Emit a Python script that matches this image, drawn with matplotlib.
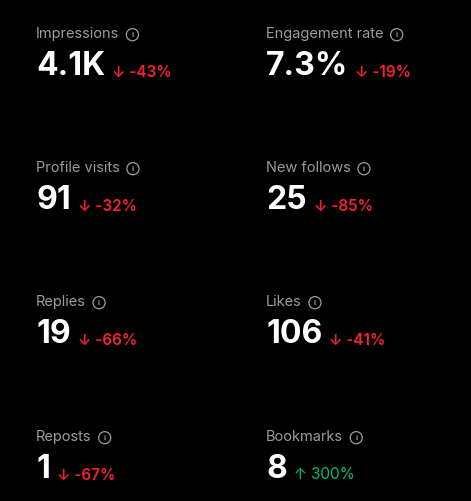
import matplotlib.pyplot as plt

# Metric cards (2 columns x 4 rows)
labels = ['Impressions', 'Engagement rate', 'Profile visits', 'New follows',
          'Replies', 'Likes', 'Reposts', 'Bookmarks']
values = ['4.1K', '7.3%', '91', '25', '19', '106', '1', '8']
changes = [-43, -19, -32, -85, -66, -41, -67, 300]

RED = '#f4212e'
GREEN = '#00ba7c'
GREY = '#a09a9c'

plt.rcParams['font.family'] = ['Inter', 'DejaVu Sans']

fig = plt.figure(figsize=(4.71, 5.01), dpi=100, facecolor='black')
ax = fig.add_axes([0, 0, 1, 1])
ax.set_facecolor('black')
ax.set_xlim(0, 471)
ax.set_ylim(501, 0)
ax.axis('off')

col_x = [36, 266]
row_y = [38, 172, 306, 441]

for i, (lab, val, ch) in enumerate(zip(labels, values, changes)):
    x = col_x[i % 2]
    y = row_y[i // 2]
    lt = ax.text(x, y, lab, color=GREY, fontsize=10.5, va='baseline', ha='left')
    # small info icon after the label
    ax.annotate('i', xy=(1, 0.5), xycoords=lt, xytext=(9.5, -0.5), textcoords='offset points',
                color=GREY, fontsize=5.5, fontweight='bold', ha='center', va='center',
                bbox=dict(boxstyle='circle,pad=0.4', fc='none', ec=GREY, lw=0.9))
    vt = ax.text(x, y + 37, val, color='white', fontsize=23, fontweight='bold',
                 va='baseline', ha='left')
    up = ch > 0
    txt = ('\u2191 ' if up else '\u2193 ') + ('%d%%' % ch)
    ax.annotate(txt, xy=(1, 0), xycoords=vt, xytext=(5, 4), textcoords='offset points',
                color=GREEN if up else RED, fontsize=11,
                fontweight='normal' if up else 'semibold', ha='left', va='baseline')

fig.savefig('out.png', dpi=100, facecolor='black')
